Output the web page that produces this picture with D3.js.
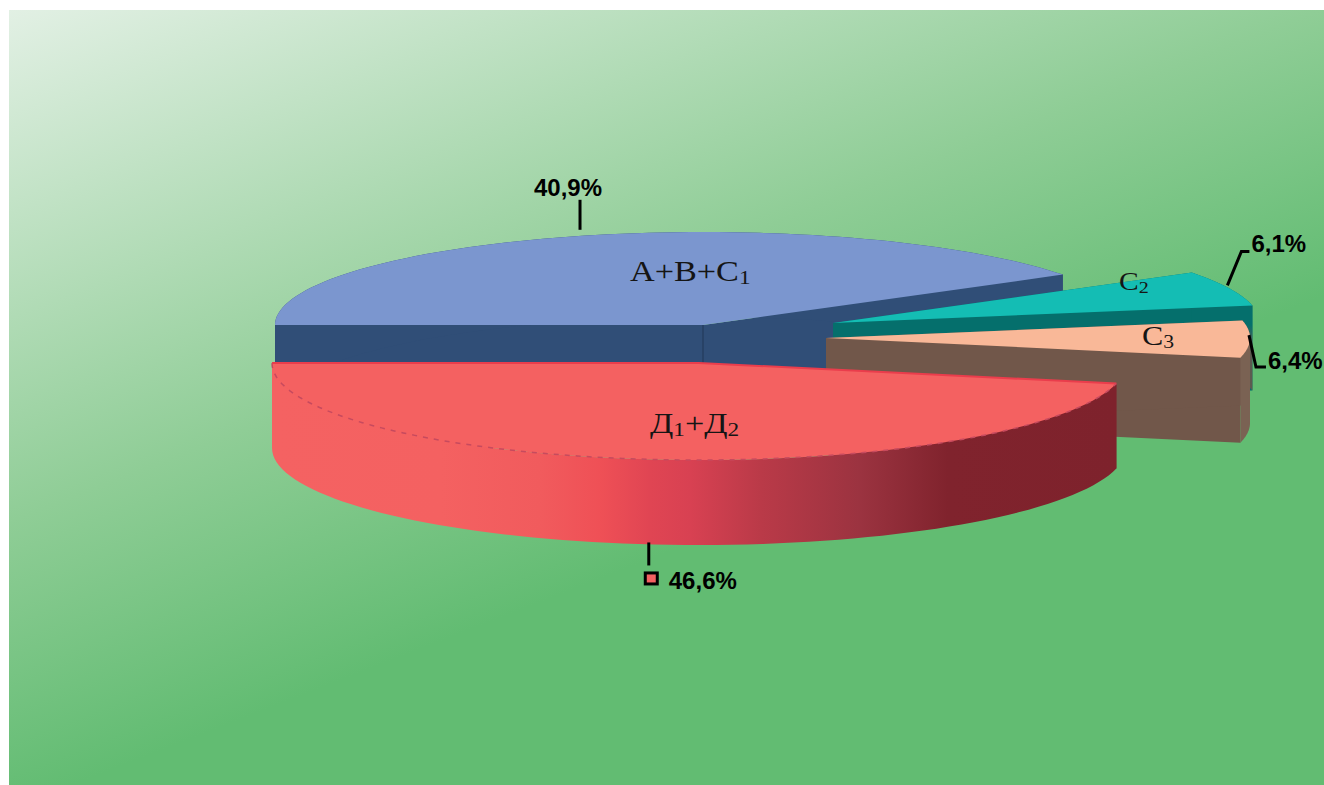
<!DOCTYPE html>
<html>
<head>
<meta charset="utf-8">
<script src="https://cdn.jsdelivr.net/npm/d3@7"></script>
<style>
  html, body { margin: 0; background: #fff; }
  svg { display: block; }
  .pct { font: bold 24px "Liberation Sans", Arial, sans-serif; fill: #000; }
  .cat { font-family: "Liberation Serif", "Times New Roman", serif; fill: #151515; }
</style>
</head>
<body>
<svg id="chart" width="1324" height="785"></svg>
<script>
// share of each category, going counter-clockwise round the pie
const categories = ["А+В+С1", "Д1+Д2", "С3", "С2"];
const values = [40.9, 46.6, 6.4, 6.1];

// colours
const topColors = ["#7b96cf", "#f46161", "#f9b898", "#14bdb4"];
const sideColors = ["#304e77", "url(#redSide)", "#71574a", "#056f6c"];
const rimColors = ["#304e77", "url(#redSide)", "#7a6253", "url(#tealRim)"];

// where each exploded slice sits: apex x, apex y, radii of the ellipse
const apexX = [703, 699, 826, 833];
const apexY = [325, 363, 338, 323];
const radiusX = [428, 427, 424, 427];
const radiusY = [93, 97, 93, 93];
const depth = 85;

// pixel offsets of the texts from the apex of their slice
const catOffset = [[-73, -44], [-49, 70], [316, 7], [286, -33]];
const catSize = [29, 29, 27, 25];
// nudge of the leader start away from the computed rim point
const anchorShift = [[-2, -6], [-5, -2], [-1, -4], [-2, -3]];
// leader line bends, relative to the start
const leaderBends = [
  [[0, -30]],
  [[0, 23]],
  [[7, 32], [17, 32]],
  [[14, -34], [22, -34]]
];
const pctOffset = [[-46, -34], [20, 47], [19, 34], [24, -33]];

const width = 1324, height = 785;
const svg = d3.select("#chart");
const defs = svg.append("defs");

const bg = defs.append("linearGradient").attr("id", "bg")
  .attr("gradientUnits", "userSpaceOnUse")
  .attr("x1", 9).attr("y1", 10).attr("x2", 280).attr("y2", 704);
bg.append("stop").attr("offset", 0).attr("stop-color", "#e2f0e4");
bg.append("stop").attr("offset", 0.64).attr("stop-color", "#8fcd96");
bg.append("stop").attr("offset", 1).attr("stop-color", "#62bc72");

const redSide = defs.append("linearGradient").attr("id", "redSide")
  .attr("gradientUnits", "userSpaceOnUse")
  .attr("x1", 272).attr("y1", 0).attr("x2", 1117).attr("y2", 0);
[[0, "#f46262"], [0.2, "#f46161"], [0.317, "#f15b5d"], [0.388, "#ef5056"], [0.447, "#e04553"],
 [0.495, "#d84152"], [0.578, "#ba3a48"], [0.696, "#9b3340"], [0.8, "#80232d"], [1, "#7e222c"]].forEach(s => {
  redSide.append("stop").attr("offset", s[0]).attr("stop-color", s[1]);
});

const tealRim = defs.append("linearGradient").attr("id", "tealRim")
  .attr("gradientUnits", "userSpaceOnUse")
  .attr("x1", 0).attr("y1", 325).attr("x2", 0).attr("y2", 345);
tealRim.append("stop").attr("offset", 0).attr("stop-color", "#056f6c");
tealRim.append("stop").attr("offset", 1).attr("stop-color", "#5c5a50");

svg.append("rect").attr("x", 9).attr("y", 10)
  .attr("width", width - 9).attr("height", height - 10)
  .attr("fill", "url(#bg)");

// d3 angles run clockwise from 12 o'clock, blue starts about 33 degrees above 3 o'clock
const pie = d3.pie().sort(null)
  .startAngle(57.2 * Math.PI / 180)
  .endAngle((57.2 - 360) * Math.PI / 180);

const line = d3.line();

const slices = pie(values).map((d, i) => {
  const x = d3.scaleLinear().domain([-1, 1]).range([apexX[i] - radiusX[i], apexX[i] + radiusX[i]]);
  const y = d3.scaleLinear().domain([-1, 1]).range([apexY[i] + radiusY[i], apexY[i] - radiusY[i]]);
  const point = a => [x(Math.sin(a)), y(Math.cos(a))];
  const arcPoints = d3.range(0, 81).map(k => point(d.startAngle + (d.endAngle - d.startAngle) * k / 80));
  return {
    i: i,
    label: categories[i],
    value: d.value,
    apex: [x(0), y(0)],
    arc: arcPoints,
    mid: point((d.startAngle + d.endAngle) / 2)
  };
});

const down = p => [p[0], p[1] + depth];

function drawWalls(s) {
  const g = svg.append("g");
  const first = s.arc[0], last = s.arc[s.arc.length - 1];
  [first, last].forEach(p => {
    g.append("path")
      .attr("d", line([s.apex, p, down(p), down(s.apex)]) + "Z")
      .attr("fill", sideColors[s.i]);
  });
  // back and front of the rim go separately, one polygon would fold over itself and leave a hole
  const back = s.arc.filter(p => p[1] <= s.apex[1]);
  const front = s.arc.filter(p => p[1] > s.apex[1]);
  [back, front].filter(part => part.length > 1).forEach(part => {
    g.append("path")
      .attr("d", line(part.concat(part.slice().reverse().map(down))) + "Z")
      .attr("fill", rimColors[s.i]);
  });
}

function drawTop(s) {
  svg.append("path")
    .attr("d", line([s.apex].concat(s.arc)) + "Z")
    .attr("fill", topColors[s.i]);
}

// painter order, back to front
[0, 3, 2, 1].forEach(i => {
  const s = slices[i];
  drawWalls(s);
  if (i === 0) {
    svg.append("path")
      .attr("d", line([s.apex, down(s.apex)]))
      .attr("stroke", "#263f60").attr("stroke-width", 1.5).attr("fill", "none");
  }
  drawTop(s);
});

// red slice edges
const red = slices[1];
svg.append("path")
  .attr("d", line([red.arc[0], red.apex, red.arc[red.arc.length - 1]]))
  .attr("stroke", "#ea3d4c").attr("stroke-width", 2).attr("fill", "none");
svg.append("path")
  .attr("d", line(red.arc))
  .attr("stroke", "#c74a5e").attr("stroke-width", 1.5).attr("stroke-dasharray", "5 6").attr("fill", "none");

// category names, digits as subscripts; the picture is stretched sideways
slices.forEach(s => {
  const t = svg.append("text").attr("class", "cat")
    .attr("transform", `translate(${s.apex[0] + catOffset[s.i][0]},${s.apex[1] + catOffset[s.i][1]}) scale(1.18,1)`)
    .attr("font-size", catSize[s.i]);
  let afterSub = false;
  s.label.split(/(\d)/).filter(p => p).forEach(p => {
    const isSub = /\d/.test(p);
    t.append("tspan")
      .attr("font-size", isSub ? catSize[s.i] * 0.68 : catSize[s.i])
      .attr("dy", isSub ? 3 : (afterSub ? -3 : 0))
      .text(p);
    afterSub = isSub;
  });
});

// leader lines and percent labels
const comma = d3.formatLocale({ decimal: ",", thousands: " ", grouping: [3], currency: ["", ""] }).format(".1f");
slices.forEach(s => {
  // the red label hangs off the lower rim, not the top face
  const rim = s.i === 1 ? down(s.mid) : s.mid;
  const start = [rim[0] + anchorShift[s.i][0], rim[1] + anchorShift[s.i][1]];
  const pts = [start].concat(leaderBends[s.i].map(b => [start[0] + b[0], start[1] + b[1]]));
  svg.append("path").attr("d", line(pts))
    .attr("fill", "none").attr("stroke", "#000").attr("stroke-width", 3);
  svg.append("text").attr("class", "pct")
    .attr("x", start[0] + pctOffset[s.i][0])
    .attr("y", start[1] + pctOffset[s.i][1])
    .text(comma(s.value) + "%");
  if (s.i === 1) {
    svg.append("rect")
      .attr("x", start[0] - 3.5).attr("y", start[1] + 30.5)
      .attr("width", 12).attr("height", 11)
      .attr("fill", topColors[1]).attr("stroke", "#000").attr("stroke-width", 3);
  }
});
</script>
</body>
</html>
